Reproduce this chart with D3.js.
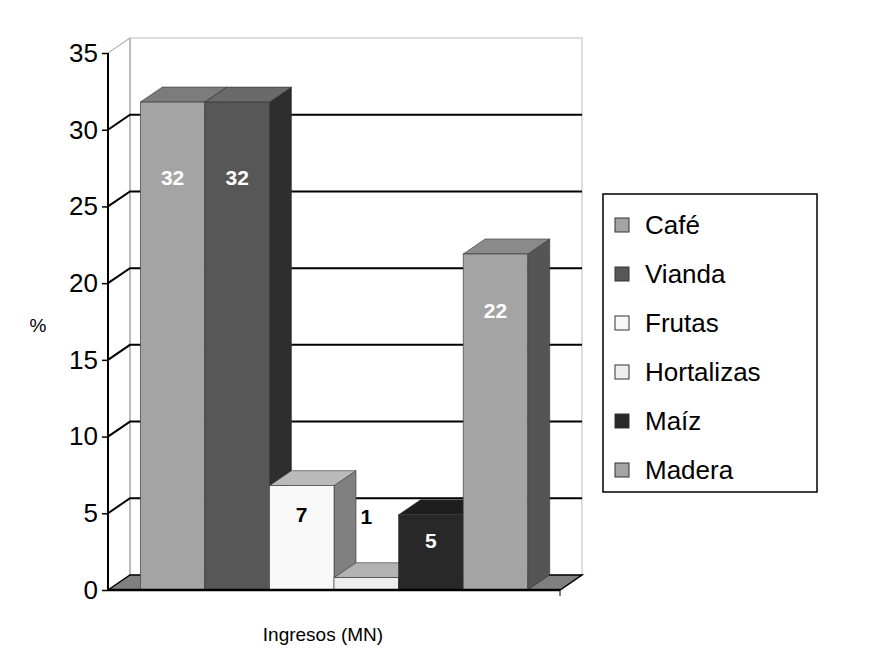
<!DOCTYPE html>
<html>
<head>
<meta charset="UTF-8">
<title>Ingresos</title>
<script src="https://cdn.jsdelivr.net/npm/d3@7"></script>
<style>
  body { margin: 0; background: #fff; }
  text { font-family: "Liberation Sans", Arial, sans-serif; }
</style>
</head>
<body>
<div id="chart"></div>
<script>
    const categories = ["Café", "Vianda", "Frutas", "Hortalizas", "Maíz", "Madera"];
    const values = [31.8, 31.8, 6.8, 0.8, 4.9, 21.9];
    const labels = ["32", "32", "7", "1", "5", "22"];
    const yTicks = [0, 5, 10, 15, 20, 25, 30, 35];

    // colours per series: front, top, side, label
    const colors = [
        { front: "#a4a4a4", top: "#7c7c7c", side: "#6a6a6a", text: "#fff" },
        { front: "#575757", top: "#6a6a6a", side: "#2e2e2e", text: "#fff" },
        { front: "#f8f8f8", top: "#bababa", side: "#808080", text: "#000" },
        { front: "#eeeeee", top: "#b2b2b2", side: "#8a8a8a", text: "#000" },
        { front: "#282828", top: "#1e1e1e", side: "#151515", text: "#fff" },
        { front: "#a4a4a4", top: "#8a8a8a", side: "#555555", text: "#fff" }
    ];

    const W = 883, H = 659;
    const dx = 22, dy = -15;   // depth offset of the 3D box

    const svg = d3.select("#chart").append("svg")
        .attr("width", W).attr("height", H);

    const y = d3.scaleLinear().domain([0, 35]).range([590, 53]);
    const x = d3.scaleBand().domain(categories).range([108, 560])
        .paddingInner(0).paddingOuter(0.5);

    // back wall
    svg.append("rect")
        .attr("x", 108 + dx).attr("y", y(35) + dy)
        .attr("width", 560 - 108).attr("height", y(0) - y(35))
        .attr("fill", "#fff").attr("stroke", "#bbb");

    // left wall edge
    svg.append("path")
        .attr("d", `M108,${y(35)} L${108 + dx},${y(35) + dy} L${108 + dx},${y(0) + dy}`)
        .attr("fill", "none").attr("stroke", "#999");

    // gridlines
    yTicks.filter(t => t > 0 && t < 35).forEach(t => {
        svg.append("path")
            .attr("d", `M108,${y(t)} L${108 + dx},${y(t) + dy} L${560 + dx},${y(t) + dy}`)
            .attr("fill", "none").attr("stroke", "#000").attr("stroke-width", 2);
    });

    // floor
    svg.append("path")
        .attr("d", `M108,${y(0)} L${108 + dx},${y(0) + dy} L${560 + dx},${y(0) + dy} L560,${y(0)} Z`)
        .attr("fill", "#808080").attr("stroke", "#000").attr("stroke-width", 1.5);

    // bars
    categories.forEach((c, i) => {
        const x0 = x(c), x1 = x0 + x.bandwidth();
        const yt = y(values[i]), yb = y(0);
        const col = colors[i];
        const g = svg.append("g");
        g.append("path")
            .attr("d", `M${x1},${yt} L${x1 + dx},${yt + dy} L${x1 + dx},${yb + dy} L${x1},${yb} Z`)
            .attr("fill", col.side).attr("stroke", "#333").attr("stroke-width", 0.6);
        g.append("path")
            .attr("d", `M${x0},${yt} L${x0 + dx},${yt + dy} L${x1 + dx},${yt + dy} L${x1},${yt} Z`)
            .attr("fill", col.top).attr("stroke", "#333").attr("stroke-width", 0.6);
        g.append("rect")
            .attr("x", x0).attr("y", yt).attr("width", x.bandwidth()).attr("height", yb - yt)
            .attr("fill", col.front).attr("stroke", "#333").attr("stroke-width", 0.6);
    });

    // value labels
    categories.forEach((c, i) => {
        const small = values[i] < 3;
        const h = y(0) - y(values[i]);
        svg.append("text")
            .attr("x", x(c) + x.bandwidth() / 2)
            .attr("y", small ? y(4.3) : y(values[i]) + 0.12 * h + 24)
            .attr("text-anchor", "middle")
            .attr("font-size", 21).attr("font-weight", "bold")
            .attr("fill", colors[i].text)
            .text(labels[i]);
    });

    // front axis
    svg.append("line")
        .attr("x1", 108).attr("x2", 108).attr("y1", y(35)).attr("y2", y(0))
        .attr("stroke", "#000").attr("stroke-width", 2);
    svg.append("line")
        .attr("x1", 108).attr("x2", 560).attr("y1", y(0)).attr("y2", y(0))
        .attr("stroke", "#000").attr("stroke-width", 2.5);
    svg.append("line")
        .attr("x1", 560).attr("x2", 560).attr("y1", y(0)).attr("y2", y(0) + 6)
        .attr("stroke", "#000");

    const axis = d3.axisLeft(y).tickValues(yTicks).tickSize(6).tickPadding(4);
    const ga = svg.append("g").attr("transform", "translate(108,0)").call(axis);
    ga.select(".domain").remove();
    ga.selectAll("line").attr("stroke-width", 1.5);
    ga.selectAll("text").attr("font-size", 26).attr("fill", "#000")
        .style("font-family", "'Liberation Sans', Arial, sans-serif");

    // axis titles
    svg.append("text").attr("x", 38).attr("y", 332).attr("text-anchor", "middle")
        .attr("font-size", 19).text("%");
    svg.append("text").attr("x", 323).attr("y", 641).attr("text-anchor", "middle")
        .attr("font-size", 19).text("Ingresos (MN)");

    // legend
    const lg = svg.append("g");
    lg.append("rect").attr("x", 603).attr("y", 194).attr("width", 214).attr("height", 298)
        .attr("fill", "#fff").attr("stroke", "#000").attr("stroke-width", 1.5);
    categories.forEach((c, i) => {
        const cy = 225 + i * 49;
        lg.append("rect").attr("x", 615).attr("y", cy - 7).attr("width", 14).attr("height", 14)
            .attr("fill", colors[i].front).attr("stroke", "#333");
        lg.append("text").attr("x", 645).attr("y", cy + 9)
            .attr("font-size", 26).text(c);
    });
</script>
</body>
</html>
